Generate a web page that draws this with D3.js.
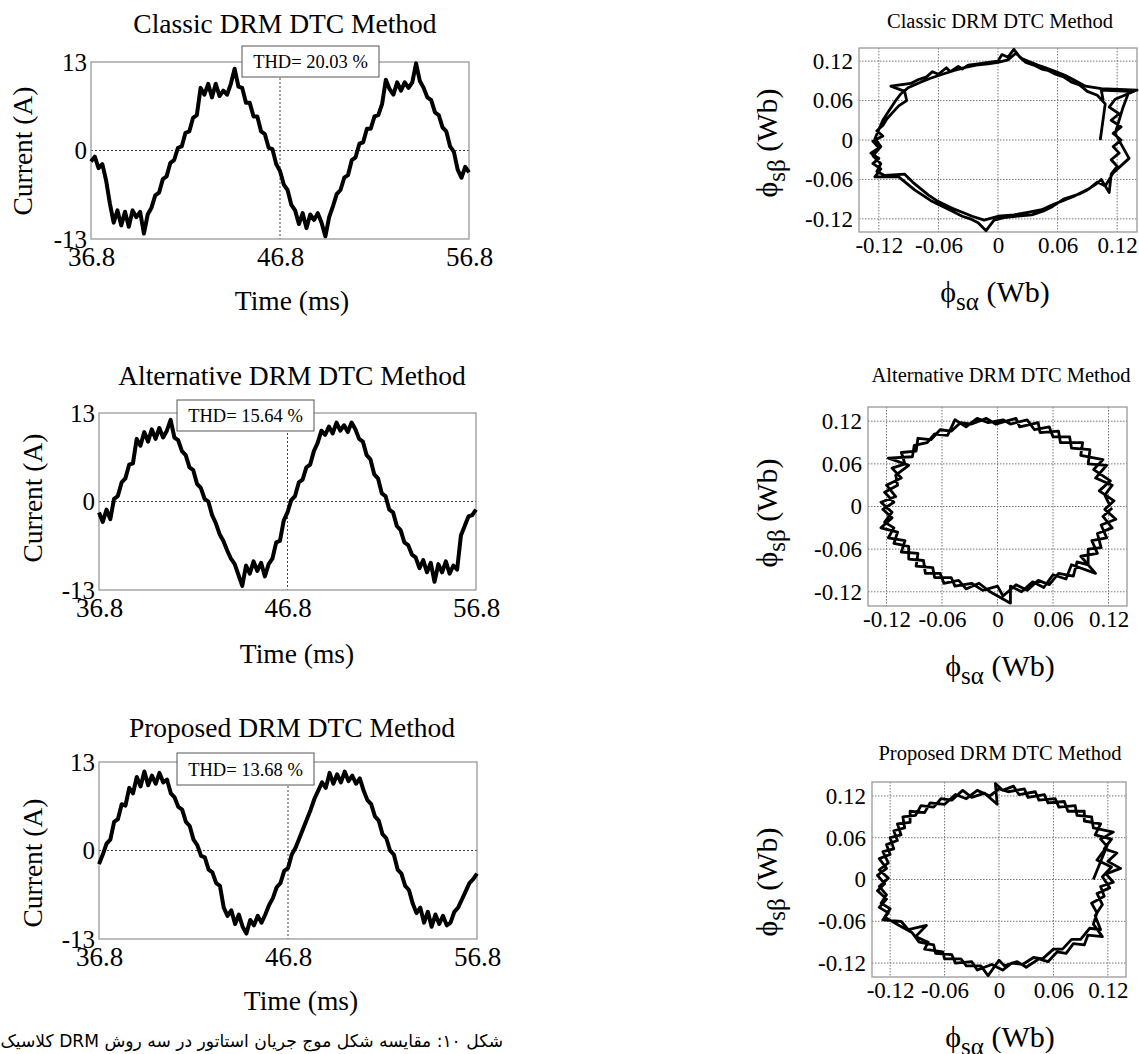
<!DOCTYPE html>
<html>
<head>
<meta charset="utf-8">
<script src="https://cdn.jsdelivr.net/npm/d3@7"></script>
<style>
  body { margin: 0; background: #fff; }
  svg text { font-family: "Liberation Serif", "Times New Roman", serif; fill: #000; }
</style>
</head>
<body>
<svg id="fig" width="1139" height="1054"></svg>
<script>
// ---- data ----
const timeStart = 36.8;   // ms
const timeStep = 0.2;     // ms between samples
const timeTicks = [36.8, 46.8, 56.8];
const currentTicks = [-13, 0, 13];
const fluxTicks = [-0.12, -0.06, 0, 0.06, 0.12];
const methodTitles = ["Classic DRM DTC Method", "Alternative DRM DTC Method", "Proposed DRM DTC Method"];
const thdValues = [20.03, 15.64, 13.68];

const classicCurrent = [
  -1.6, -0.9, -2.6, -2.0, -4.4, -7.8, -10.6, -8.8, -11.0, -9.0,
  -11.2, -8.8, -9.8, -9.0, -12.2, -9.4, -8.4, -6.6, -6.2, -4.2,
  -3.8, -1.8, -1.4, 0.4, 0.6, 2.6, 2.8, 4.8, 5.2, 9.2,
  8.2, 9.8, 7.8, 9.8, 8.0, 8.8, 8.2, 9.8, 12.0, 9.4,
  9.2, 7.0, 7.0, 5.0, 5.0, 2.8, 2.4, 0.4, 0.2, -2.0,
  -3.0, -5.0, -5.8, -8.0, -8.8, -10.8, -9.2, -11.4, -9.4, -10.2,
  -9.2, -10.6, -12.6, -9.8, -8.2, -6.4, -5.8, -4.0, -3.6, -1.4,
  -1.0, 1.0, 1.2, 3.2, 3.2, 5.0, 5.2, 6.8, 10.4, 9.0,
  8.2, 10.0, 8.8, 10.0, 9.2, 10.0, 12.8, 10.2, 9.2, 7.8,
  7.4, 5.6, 5.2, 3.4, 2.8, 0.6, -0.2, -2.8, -4.0, -2.4,
  -3.2
];
const alternativeCurrent = [
  -1.6, -3.0, -1.2, -2.6, 0.4, 0.8, 2.8, 3.4, 5.4, 5.6,
  9.2, 8.2, 10.2, 8.8, 10.6, 9.2, 10.8, 9.4, 10.4, 12.0,
  9.4, 9.0, 7.4, 6.8, 5.0, 4.6, 2.6, 2.0, 0.4, 0.0,
  -2.0, -3.2, -4.8, -5.8, -7.2, -8.4, -9.2, -10.8, -12.4, -9.4,
  -10.6, -8.8, -10.2, -9.0, -11.0, -9.2, -8.4, -6.0, -5.8, -2.8,
  -1.6, 0.2, 0.8, 2.8, 3.2, 5.0, 5.4, 7.4, 8.6, 10.4,
  9.8, 11.0, 10.0, 11.6, 10.4, 11.2, 10.2, 11.6, 10.6, 9.2,
  8.8, 6.8, 6.2, 4.0, 3.4, 1.2, 0.8, -1.2, -1.6, -3.6,
  -4.2, -6.0, -6.4, -7.8, -8.2, -9.8, -8.6, -10.4, -9.0, -11.8,
  -9.2, -10.4, -8.8, -10.6, -9.4, -10.0, -5.0, -3.6, -2.2, -2.0,
  -1.2
];
const proposedCurrent = [
  -2.0, -0.6, 1.0, 1.6, 4.2, 4.6, 6.8, 6.6, 9.2, 8.4,
  10.8, 9.4, 11.6, 9.6, 11.0, 9.8, 11.4, 10.0, 10.4, 8.4,
  7.8, 6.4, 6.0, 4.2, 3.6, 1.6, 0.8, -0.8, -1.0, -2.8,
  -3.2, -4.8, -5.2, -8.4, -9.6, -8.8, -10.8, -9.4, -11.2, -12.2,
  -10.2, -11.0, -9.6, -10.6, -9.4, -8.0, -7.0, -5.4, -4.8, -3.0,
  -2.6, -0.6, 0.4, 1.8, 3.2, 4.6, 6.0, 7.6, 8.8, 10.0,
  9.2, 11.4, 9.8, 11.2, 10.0, 11.6, 10.2, 11.0, 9.8, 10.6,
  8.8, 7.4, 6.8, 5.0, 4.4, 2.4, 1.8, 0.0, -0.6, -2.8,
  -3.4, -5.2, -5.8, -7.8, -9.2, -8.4, -10.6, -9.0, -11.2, -9.4,
  -10.8, -9.6, -11.0, -10.6, -9.0, -8.4, -7.2, -6.0, -4.8, -4.2,
  -3.4
];

// stator flux trajectories [alpha, beta] in Wb
const classicFlux = [
  [0.103,0.000],[0.108,0.055],[0.100,0.068],[0.090,0.074],[0.082,0.084],[0.074,0.088],[0.066,0.096],[0.058,0.100],[0.050,0.106],[0.044,0.108],
  [0.036,0.114],[0.028,0.118],[0.022,0.126],[0.016,0.138],[0.010,0.126],[0.004,0.130],[0.000,0.120],[-0.010,0.118],[-0.020,0.116],[-0.030,0.114],
  [-0.036,0.108],[-0.040,0.112],[-0.048,0.104],[-0.052,0.110],[-0.060,0.100],[-0.066,0.104],[-0.072,0.096],[-0.080,0.092],[-0.088,0.086],[-0.108,0.082],
  [-0.094,0.074],[-0.092,0.060],[-0.100,0.052],[-0.106,0.042],[-0.112,0.032],[-0.116,0.022],[-0.122,0.014],[-0.116,0.006],[-0.126,-0.002],[-0.120,-0.012],
  [-0.128,-0.020],[-0.120,-0.028],[-0.126,-0.036],[-0.118,-0.044],[-0.124,-0.056],[-0.100,-0.056],[-0.092,-0.066],[-0.084,-0.076],[-0.076,-0.084],[-0.068,-0.092],
  [-0.060,-0.098],[-0.052,-0.104],[-0.044,-0.110],[-0.036,-0.116],[-0.028,-0.120],[-0.020,-0.126],[-0.012,-0.138],[-0.004,-0.122],[0.006,-0.118],[0.020,-0.116],
  [0.034,-0.114],[0.046,-0.108],[0.054,-0.102],[0.060,-0.096],[0.066,-0.090],[0.074,-0.086],[0.082,-0.082],[0.090,-0.076],[0.098,-0.068],[0.104,-0.060],
  [0.112,-0.080],[0.114,-0.052],[0.120,-0.040],[0.114,-0.030],[0.122,-0.020],[0.116,-0.010],[0.124,0.000],[0.116,0.010],[0.124,0.020],[0.114,0.030],
  [0.122,0.040],[0.112,0.050],[0.118,0.062],[0.140,0.076],[0.104,0.078],[0.088,0.082],[0.078,0.090],[0.068,0.098],[0.058,0.104],[0.048,0.110],
  [0.040,0.114],[0.030,0.120],[0.024,0.124],[0.018,0.132],[0.010,0.122],[0.000,0.118],[-0.010,0.116],[-0.022,0.114],[-0.034,0.110],[-0.044,0.106],
  [-0.056,0.100],[-0.068,0.094],[-0.078,0.088],[-0.090,0.080],[-0.098,0.070],[-0.104,0.058],[-0.110,0.044],[-0.116,0.030],[-0.120,0.016],[-0.124,0.002],
  [-0.118,-0.010],[-0.126,-0.024],[-0.118,-0.036],[-0.122,-0.048],[-0.114,-0.054],[-0.094,-0.052],[-0.086,-0.064],[-0.078,-0.074],[-0.070,-0.084],[-0.062,-0.092],
  [-0.054,-0.098],[-0.046,-0.104],[-0.036,-0.110],[-0.026,-0.116],[-0.014,-0.122],[0.000,-0.116],[0.016,-0.114],[0.030,-0.110],[0.044,-0.106],[0.056,-0.098],
  [0.066,-0.092],[0.076,-0.086],[0.084,-0.080],[0.092,-0.074],[0.100,-0.064],[0.108,-0.070],[0.116,-0.050],[0.132,-0.028],[0.118,0.010],[0.126,0.050],
  [0.132,0.074],[0.104,0.076],[0.106,0.060]
];
const alternativeFlux = [
  [0.122,0.000],[0.116,0.016],[0.124,0.030],[0.106,0.040],[0.118,0.058],[0.098,0.060],[0.100,0.080],[0.080,0.082],[0.078,0.098],[0.060,0.098],
  [0.056,0.112],[0.040,0.108],[0.032,0.122],[0.014,0.116],[0.006,0.122],[-0.010,0.118],[-0.022,0.124],[-0.034,0.112],[-0.046,0.122],[-0.054,0.100],
  [-0.068,0.102],[-0.076,0.090],[-0.090,0.086],[-0.092,0.070],[-0.118,0.068],[-0.096,0.058],[-0.110,0.044],[-0.108,0.030],[-0.122,0.020],[-0.112,0.006],
  [-0.124,-0.004],[-0.114,-0.016],[-0.126,-0.030],[-0.108,-0.036],[-0.112,-0.052],[-0.096,-0.056],[-0.096,-0.074],[-0.080,-0.076],[-0.078,-0.094],[-0.062,-0.094],
  [-0.058,-0.108],[-0.042,-0.104],[-0.034,-0.116],[-0.020,-0.108],[-0.008,-0.120],[0.014,-0.136],[0.014,-0.112],[0.026,-0.120],[0.038,-0.106],[0.050,-0.114],
  [0.060,-0.096],[0.074,-0.102],[0.080,-0.082],[0.106,-0.094],[0.090,-0.070],[0.108,-0.066],[0.102,-0.048],[0.118,-0.044],[0.112,-0.026],[0.128,-0.018],
  [0.116,-0.004],[0.126,0.008],[0.110,0.022],[0.122,0.036],[0.104,0.052],[0.114,0.066],[0.090,0.072],[0.092,0.090],[0.068,0.090],[0.066,0.106],
  [0.046,0.104],[0.044,0.118],[0.024,0.112],[0.020,0.124],[-0.002,0.116],[-0.012,0.124],[-0.028,0.116],[-0.040,0.118],[-0.050,0.106],[-0.062,0.108],
  [-0.072,0.094],[-0.086,0.096],[-0.088,0.078],[-0.104,0.076],[-0.100,0.060],[-0.114,0.054],[-0.104,0.040],[-0.120,0.030],[-0.110,0.014],[-0.126,0.006],
  [-0.114,-0.008],[-0.122,-0.022],[-0.112,-0.030],[-0.118,-0.044],[-0.100,-0.048],[-0.104,-0.064],[-0.086,-0.066],[-0.088,-0.084],[-0.070,-0.086],[-0.068,-0.100],
  [-0.050,-0.100],[-0.046,-0.112],[-0.028,-0.108],[-0.016,-0.118],[0.000,-0.112],[0.006,-0.126],[0.020,-0.110],[0.032,-0.118],[0.044,-0.104],[0.056,-0.110],
  [0.066,-0.094],[0.082,-0.098],[0.086,-0.078],[0.098,-0.082],[0.098,-0.060],[0.112,-0.058],[0.108,-0.038],[0.124,-0.030],[0.114,-0.014],[0.124,-0.002]
];
const proposedFlux = [
  [0.104,0.000],[0.119,0.048],[0.112,0.058],[0.126,0.068],[0.104,0.074],[0.102,0.090],[0.086,0.092],[0.084,0.106],[0.066,0.104],[0.062,0.116],
  [0.044,0.114],[0.040,0.126],[0.022,0.122],[0.016,0.134],[0.004,0.128],[-0.004,0.138],[-0.002,0.108],[-0.016,0.124],[-0.030,0.118],[-0.040,0.128],
  [-0.052,0.114],[-0.064,0.116],[-0.072,0.104],[-0.086,0.106],[-0.092,0.092],[-0.106,0.090],[-0.104,0.074],[-0.116,0.070],[-0.112,0.056],[-0.124,0.050],
  [-0.120,0.036],[-0.132,0.030],[-0.124,0.016],[-0.134,0.006],[-0.126,-0.006],[-0.134,-0.016],[-0.124,-0.028],[-0.132,-0.040],[-0.122,-0.048],[-0.128,-0.058],
  [-0.108,-0.060],[-0.100,-0.072],[-0.080,-0.066],[-0.092,-0.082],[-0.078,-0.090],[-0.082,-0.100],[-0.062,-0.104],[-0.060,-0.114],[-0.042,-0.114],[-0.036,-0.124],
  [-0.020,-0.124],[-0.012,-0.138],[0.000,-0.116],[0.006,-0.124],[0.020,-0.118],[0.030,-0.126],[0.044,-0.114],[0.054,-0.118],[0.064,-0.104],[0.074,-0.106],
  [0.082,-0.092],[0.094,-0.094],[0.098,-0.080],[0.114,-0.082],[0.104,-0.064],[0.108,-0.048],[0.102,-0.034],[0.116,-0.024],[0.112,-0.010],[0.126,-0.004],
  [0.118,0.008],[0.134,0.016],[0.120,0.026],[0.130,0.038],[0.116,0.044],[0.124,0.058],[0.106,0.064],[0.112,0.080],[0.094,0.084],[0.094,0.098],
  [0.076,0.098],[0.072,0.112],[0.054,0.110],[0.050,0.122],[0.032,0.118],[0.028,0.130],[0.010,0.126],[0.000,0.130],[-0.010,0.120],[-0.024,0.128],
  [-0.036,0.116],[-0.048,0.122],[-0.060,0.108],[-0.076,0.110],[-0.082,0.096],[-0.098,0.098],[-0.098,0.082],[-0.112,0.080],[-0.108,0.064],[-0.120,0.060],
  [-0.116,0.044],[-0.128,0.040],[-0.122,0.024],[-0.132,0.014],[-0.122,0.002],[-0.132,-0.010],[-0.124,-0.022],[-0.130,-0.034],[-0.120,-0.042],[-0.126,-0.054],
  [-0.110,-0.066],[-0.096,-0.076],[-0.088,-0.090],[-0.072,-0.094],[-0.070,-0.106],[-0.052,-0.108],[-0.048,-0.120],[-0.030,-0.118],[-0.024,-0.130],[-0.008,-0.122],
  [0.004,-0.130],[0.014,-0.120],[0.026,-0.122],[0.038,-0.112],[0.048,-0.114],[0.060,-0.100],[0.070,-0.100],[0.080,-0.086],[0.090,-0.086],[0.100,-0.070],
  [0.112,-0.072],[0.106,-0.052],[0.114,-0.036],[0.108,-0.020],[0.122,-0.012],[0.114,0.004],[0.124,0.018],[0.108,0.028],[0.118,0.046]
];

const caption = "شکل ۱۰: مقایسه شکل موج جریان استاتور در سه روش DRM کلاسیک";

// ---- layout ----
const currentPanels = [
  { x0: 91, x1: 469, y0: 62, y1: 239, titleX: 285, titleY: 33, labX: 292, labY: 310, ylabX: 32, ylabY: 151, thd: [242, 46, 137, 31] },
  { x0: 99, x1: 476, y0: 413, y1: 590, titleX: 292, titleY: 385, labX: 297, labY: 663, ylabX: 42, ylabY: 498, thd: [177, 400, 137, 31] },
  { x0: 99, x1: 477, y0: 762, y1: 939, titleX: 292, titleY: 737, labX: 301, labY: 1010, ylabX: 42, ylabY: 863, thd: [177, 753, 137, 32] }
];
const fluxPanels = [
  { x0: 859, x1: 1137, y0: 48, y1: 232, titleX: 1000, titleY: 28, labX: 995, labY: 302, ylabX: 777, ylabY: 143 },
  { x0: 868, x1: 1127, y0: 407, y1: 606, titleX: 1001, titleY: 382, labX: 1000, labY: 676, ylabX: 777, ylabY: 513 },
  { x0: 872, x1: 1126, y0: 782, y1: 977, titleX: 1000, titleY: 760, labX: 1000, labY: 1047, ylabX: 777, ylabY: 882 }
];

const svg = d3.select("#fig");

function drawCurrent(p, values, title, thd) {
  const x = d3.scaleLinear().domain([timeTicks[0], timeTicks[2]]).range([p.x0, p.x1]);
  const y = d3.scaleLinear().domain([-13, 13]).range([p.y1, p.y0]);
  const g = svg.append("g");

  // grid: zero line and the middle time
  g.append("line")
    .attr("x1", p.x0).attr("x2", p.x1).attr("y1", y(0)).attr("y2", y(0))
    .attr("stroke", "#444").attr("stroke-width", 1).attr("stroke-dasharray", "2,2");
  g.append("line")
    .attr("x1", x(timeTicks[1])).attr("x2", x(timeTicks[1])).attr("y1", p.y0).attr("y2", p.y1)
    .attr("stroke", "#444").attr("stroke-width", 1).attr("stroke-dasharray", "2,2");
  g.append("rect")
    .attr("x", p.x0).attr("y", p.y0).attr("width", p.x1 - p.x0).attr("height", p.y1 - p.y0)
    .attr("fill", "none").attr("stroke", "#999").attr("stroke-width", 1.3);

  const line = d3.line()
    .x((d, i) => x(timeStart + i * timeStep))
    .y(d => y(d));
  g.append("path").datum(values)
    .attr("d", line)
    .attr("fill", "none").attr("stroke", "#000").attr("stroke-width", 4)
    .attr("stroke-linejoin", "round");

  g.append("g")
    .attr("transform", `translate(0,${p.y1})`)
    .call(d3.axisBottom(x).tickValues(timeTicks).tickSize(0).tickPadding(8).tickFormat(d3.format(".1f")))
    .attr("font-size", 27).attr("font-family", null)
    .call(a => a.select(".domain").remove());
  g.append("g")
    .attr("transform", `translate(${p.x0},0)`)
    .call(d3.axisLeft(y).tickValues(currentTicks).tickSize(0).tickPadding(4).tickFormat(d => String(d)))
    .attr("font-size", 25).attr("font-family", null)
    .call(a => a.select(".domain").remove());

  g.append("text").attr("x", p.titleX).attr("y", p.titleY)
    .attr("text-anchor", "middle").attr("font-size", 27.5).text(title);
  g.append("text").attr("x", p.labX).attr("y", p.labY)
    .attr("text-anchor", "middle").attr("font-size", 27.5).text("Time (ms)");
  g.append("text")
    .attr("transform", `translate(${p.ylabX},${p.ylabY}) rotate(-90)`)
    .attr("text-anchor", "middle").attr("font-size", 27.5).text("Current (A)");

  const [bx, by, bw, bh] = p.thd;
  g.append("rect").attr("x", bx).attr("y", by).attr("width", bw).attr("height", bh)
    .attr("fill", "#fff").attr("stroke", "#555").attr("stroke-width", 1);
  g.append("text").attr("x", bx + bw / 2).attr("y", by + bh / 2 + 6.5)
    .attr("text-anchor", "middle").attr("font-size", 18.5)
    .text(`THD= ${thd.toFixed(2)} %`);
}

function fluxLabel(sel, sub) {
  sel.append("tspan").text("\u03d5");
  sel.append("tspan").attr("dy", 8).attr("font-size", 25).text("s" + sub);
  sel.append("tspan").attr("dy", -8).text(" (Wb)");
}

function drawFlux(p, pts, title) {
  const x = d3.scaleLinear().domain([-0.14, 0.14]).range([p.x0, p.x1]);
  const y = d3.scaleLinear().domain([-0.14, 0.14]).range([p.y1, p.y0]);
  const g = svg.append("g");

  g.selectAll(".gx").data(fluxTicks).join("line")
    .attr("x1", d => x(d)).attr("x2", d => x(d)).attr("y1", p.y0).attr("y2", p.y1)
    .attr("stroke", "#777").attr("stroke-width", 1).attr("stroke-dasharray", "1.5,1.5");
  g.selectAll(".gy").data(fluxTicks).join("line")
    .attr("x1", p.x0).attr("x2", p.x1).attr("y1", d => y(d)).attr("y2", d => y(d))
    .attr("stroke", "#777").attr("stroke-width", 1).attr("stroke-dasharray", "1.5,1.5");
  g.append("rect")
    .attr("x", p.x0).attr("y", p.y0).attr("width", p.x1 - p.x0).attr("height", p.y1 - p.y0)
    .attr("fill", "none").attr("stroke", "#999").attr("stroke-width", 1.3);

  const line = d3.line().x(d => x(d[0])).y(d => y(d[1]));
  g.append("path").datum(pts)
    .attr("d", line)
    .attr("fill", "none").attr("stroke", "#000").attr("stroke-width", 2.8)
    .attr("stroke-linejoin", "round");

  const fmt = d => d === 0 ? "0" : d.toFixed(2);
  g.append("g")
    .attr("transform", `translate(0,${p.y1})`)
    .call(d3.axisBottom(x).tickValues(fluxTicks).tickSize(0).tickPadding(5).tickFormat(fmt))
    .attr("font-size", 23).attr("font-family", null)
    .call(a => a.select(".domain").remove());
  g.append("g")
    .attr("transform", `translate(${p.x0},0)`)
    .call(d3.axisLeft(y).tickValues(fluxTicks).tickSize(0).tickPadding(6).tickFormat(fmt))
    .attr("font-size", 23).attr("font-family", null)
    .call(a => a.select(".domain").remove());

  g.append("text").attr("x", p.titleX).attr("y", p.titleY)
    .attr("text-anchor", "middle").attr("font-size", 20.5).text(title);
  g.append("text").attr("x", p.labX).attr("y", p.labY)
    .attr("text-anchor", "middle").attr("font-size", 30)
    .call(fluxLabel, "\u03b1");
  g.append("text")
    .attr("transform", `translate(${p.ylabX},${p.ylabY}) rotate(-90)`)
    .attr("text-anchor", "middle").attr("font-size", 30)
    .call(fluxLabel, "\u03b2");
}

const currents = [classicCurrent, alternativeCurrent, proposedCurrent];
const fluxes = [classicFlux, alternativeFlux, proposedFlux];
currentPanels.forEach((p, i) => drawCurrent(p, currents[i], methodTitles[i], thdValues[i]));
fluxPanels.forEach((p, i) => drawFlux(p, fluxes[i], methodTitles[i]));

// figure caption (Persian, right to left), squeezed to the width it has in the figure
const cap = svg.append("text")
  .attr("x", 0).attr("y", 0)
  .attr("direction", "rtl").style("direction", "rtl")
  .attr("text-anchor", "start")
  .style("font-family", "'DejaVu Sans', sans-serif")
  .attr("font-size", 17.5)
  .text(caption);
const capW = cap.node().getComputedTextLength();
cap.attr("transform", `translate(503,1047) scale(${503 / capW},1)`);
</script>
</body>
</html>
